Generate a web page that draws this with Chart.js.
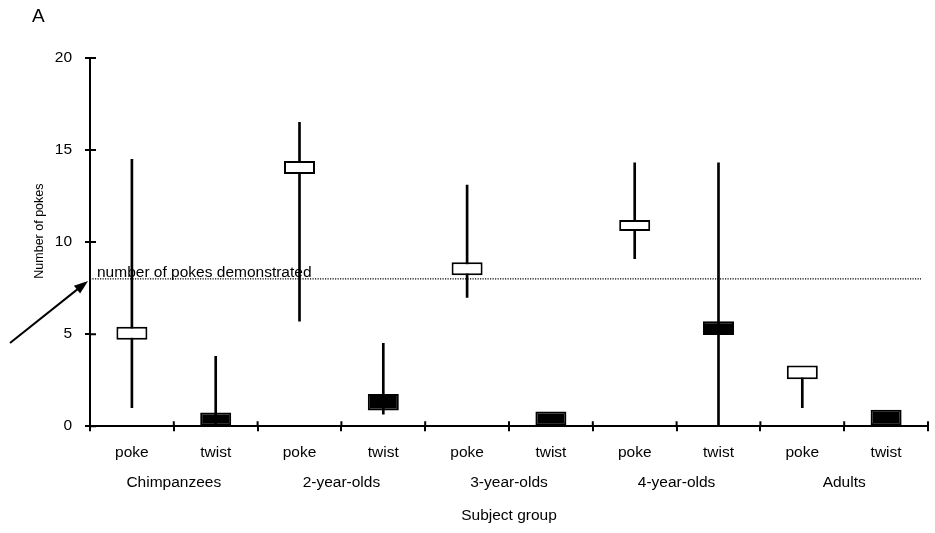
<!DOCTYPE html>
<html>
<head>
<meta charset="utf-8">
<script src="https://cdn.jsdelivr.net/npm/chart.js@4.4.1/dist/chart.umd.min.js"></script>
<style>
  html, body { margin: 0; padding: 0; background: #fff; }
  #wrap { width: 935px; height: 533px; }
</style>
</head>
<body>
<div id="wrap"><canvas id="myChart" width="935" height="533"></canvas></div>
<script>
'use strict';
// categories
let subCats = ['poke', 'twist', 'poke', 'twist', 'poke', 'twist', 'poke', 'twist', 'poke', 'twist'];
let groups = ['Chimpanzees', '2-year-olds', '3-year-olds', '4-year-olds', 'Adults'];
let yTicks = [0, 5, 10, 15, 20];

// boxes (white = poke, black = twist)
let boxLow = [4.7, 0, 13.7, 0.85, 8.2, 0, 10.6, 4.95, 2.55, 0];
let boxHigh = [5.4, 0.75, 14.4, 1.75, 8.9, 0.8, 11.2, 5.7, 3.3, 0.9];
// vertical range lines
let rangeLow = [1.0, 0, 5.7, 0.65, 7.0, null, 9.1, 0, 1.0, null];
let rangeHigh = [14.5, 3.8, 16.5, 4.5, 13.1, null, 14.3, 14.3, 3.0, null];

let demonstrated = 8;

let font = "'Liberation Sans', Arial, Helvetica, sans-serif";

let boxes = boxLow.map(function (v, i) { return [v, boxHigh[i]]; });
let ranges = rangeLow.map(function (v, i) { return v === null ? null : [v, rangeHigh[i]]; });
let boxColors = subCats.map(function (c) { return c === 'poke' ? '#ffffff' : '#000000'; });

let extras = {
  id: 'extras',
  beforeDatasetsDraw(chart) {
    let ctx = chart.ctx;
    let x = chart.scales.x;
    let y = chart.scales.y;
    let yy = y.getPixelForValue(demonstrated);
    ctx.save();
    // dotted reference line
    ctx.strokeStyle = '#000';
    ctx.lineWidth = 1.2;
    ctx.setLineDash([1.2, 1.3]);
    ctx.beginPath();
    ctx.moveTo(x.left, yy);
    ctx.lineTo(x.right - 7, yy);
    ctx.stroke();
    ctx.setLineDash([]);
    ctx.fillStyle = '#000';
    ctx.font = '15.5px ' + font;
    ctx.textAlign = 'left';
    ctx.textBaseline = 'alphabetic';
    ctx.fillText('number of pokes demonstrated', x.left + 7, yy - 2);
    ctx.restore();
  },
  afterDraw(chart) {
    let ctx = chart.ctx;
    let x = chart.scales.x;
    let y = chart.scales.y;
    ctx.save();
    ctx.strokeStyle = '#000';
    ctx.lineWidth = 2;
    // inner half of the tick marks
    ctx.beginPath();
    y.ticks.forEach(function (t) {
      let py = y.getPixelForValue(t.value);
      ctx.moveTo(y.right, py);
      ctx.lineTo(y.right + 6, py);
    });
    for (let i = 0; i <= subCats.length; i++) {
      let px = x.left + i * (x.width / subCats.length);
      ctx.moveTo(px, x.top);
      ctx.lineTo(px, x.top - 5);
    }
    ctx.stroke();

    // arrow pointing at the demonstrated level
    let tipX = x.left - 2;
    let tipY = y.getPixelForValue(demonstrated) + 2;
    let tailX = tipX - 78;
    let tailY = tipY + 62;
    let ang = Math.atan2(tipY - tailY, tipX - tailX);
    ctx.beginPath();
    ctx.moveTo(tailX, tailY);
    ctx.lineTo(tipX - 10 * Math.cos(ang), tipY - 10 * Math.sin(ang));
    ctx.stroke();
    ctx.fillStyle = '#000';
    ctx.beginPath();
    ctx.moveTo(tipX, tipY);
    ctx.lineTo(tipX - 14 * Math.cos(ang) + 5 * Math.sin(ang), tipY - 14 * Math.sin(ang) - 5 * Math.cos(ang));
    ctx.lineTo(tipX - 14 * Math.cos(ang) - 5 * Math.sin(ang), tipY - 14 * Math.sin(ang) + 5 * Math.cos(ang));
    ctx.closePath();
    ctx.fill();

    // panel letter
    ctx.font = '19px ' + font;
    ctx.textAlign = 'left';
    ctx.textBaseline = 'alphabetic';
    ctx.fillText('A', 32, 22);

    // y axis title
    ctx.translate(43, (y.top + y.bottom) / 2 - 11);
    ctx.rotate(-Math.PI / 2);
    ctx.font = '12.5px ' + font;
    ctx.textAlign = 'center';
    ctx.fillText('Number of pokes', 0, 0);
    ctx.restore();
  }
};

let ctx = document.getElementById('myChart').getContext('2d');
let myChart = new Chart(ctx, {
  type: 'bar',
  data: {
    labels: subCats,
    datasets: [{
      label: 'box',
      data: boxes,
      backgroundColor: boxColors,
      borderColor: '#000',
      borderWidth: 2,
      borderSkipped: false,
      barPercentage: 0.37,
      categoryPercentage: 1,
      grouped: false
    }, {
      label: 'range',
      data: ranges,
      backgroundColor: '#000',
      borderWidth: 0,
      barThickness: 2,
      grouped: false
    }]
  },
  options: {
    responsive: false,
    animation: false,
    layout: { padding: { left: 0, top: 58, right: 7, bottom: 8 } },
    plugins: { legend: { display: false }, tooltip: { enabled: false } },
    scales: {
      x: {
        weight: 0,
        grid: { drawOnChartArea: false, color: '#000', lineWidth: 2, tickLength: 5 },
        border: { color: '#000', width: 2 },
        ticks: { color: '#000', font: { family: font, size: 15.5 }, padding: 12, maxRotation: 0, autoSkip: false }
      },
      x2: {
        type: 'category',
        labels: groups,
        position: 'bottom',
        weight: 1,
        offset: true,
        grid: { display: false, drawTicks: false },
        border: { display: false },
        ticks: { color: '#000', font: { family: font, size: 15.5 }, padding: 0, maxRotation: 0, autoSkip: false },
        title: { display: true, text: 'Subject group', color: '#000', font: { family: font, size: 15.5 }, padding: { top: 14, bottom: 0 } }
      },
      y: {
        min: yTicks[0],
        max: yTicks[yTicks.length - 1],
        afterFit: function (s) { s.width = 90; },
        afterBuildTicks: function (s) { s.ticks = yTicks.map(function (v) { return { value: v }; }); },
        grid: { drawOnChartArea: false, color: '#000', lineWidth: 2, tickLength: 5 },
        border: { color: '#000', width: 2 },
        ticks: { color: '#000', font: { family: font, size: 15.5 }, padding: 13 }
      }
    }
  },
  plugins: [extras]
});
</script>
</body>
</html>
